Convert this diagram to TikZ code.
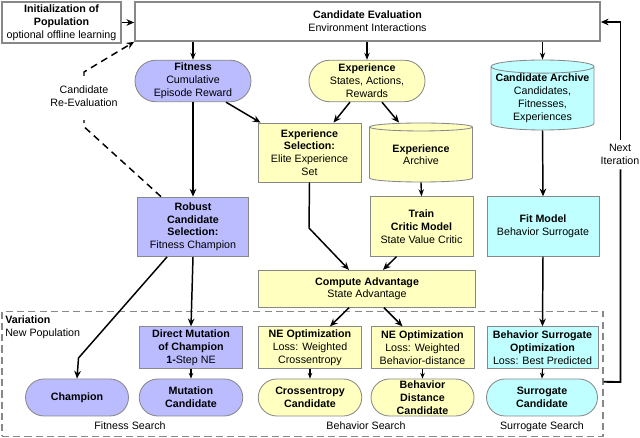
\documentclass[tikz,border=0pt]{standalone}
\usepackage{fontspec}
\setmainfont{Liberation Sans}
\usepackage{tikz}
\usetikzlibrary{arrows.meta,shapes.geometric,shapes.misc}

\definecolor{bluefill}{RGB}{187,187,255}
\definecolor{yellowfill}{RGB}{255,255,191}
\definecolor{cyanfill}{RGB}{191,255,255}
\definecolor{edgegray}{RGB}{136,136,136}

\tikzset{
    every node/.style={font=\fontsize{7.6}{9.15}\selectfont, align=center, inner sep=0pt},
    stepbox/.style 2 args={draw=edgegray, line width=0.6pt, rectangle, minimum width=#1*0.025cm, minimum height=#2*0.025cm},
    ovalbox/.style 2 args={draw=edgegray, line width=0.6pt, rounded rectangle, minimum width=#1*0.025cm, minimum height=#2*0.025cm},
    drumbox/.style 2 args={draw=edgegray, line width=0.6pt, cylinder, shape border rotate=90, aspect=0.14, anchor=shape center, minimum width=#1*0.025cm, minimum height=#2*0.025cm},
    outerbox/.style 2 args={draw=edgegray, line width=1.2pt, rectangle, minimum width=#1*0.025cm, minimum height=#2*0.025cm},
    link/.style={-{Stealth[length=5.5pt,width=4.7pt]}, line width=1.05pt},
    shortlink/.style={-{Stealth[length=5pt,width=3.8pt]}, line width=1pt},
    tinylink/.style={-{Stealth[length=4pt,width=3.2pt]}, line width=0.8pt},
    plainlink/.style={line width=1.05pt},
    longdash/.style={dash pattern=on 5pt off 3.5pt},
}

\begin{document}
\begin{tikzpicture}[x=0.025cm, y=-0.025cm]
    \useasboundingbox (0, 0) rectangle (640, 438);

    \node [outerbox={119}{41}] (init) at (61.5, 22.5) {\textbf{Initialization of}\\\textbf{Population}\\optional offline learning};
    \node [outerbox={465}{39}] (eval) at (367.5, 21.5) {\textbf{Candidate Evaluation}\\Environment Interactions};

    \node [ovalbox={116}{41.5}, fill=bluefill] (fitness) at (193, 81) {\textbf{Fitness}\\Cumulative\\Episode Reward};
    \node [ovalbox={116}{41.5}, fill=yellowfill] (experience) at (367, 81) {\textbf{Experience}\\States, Actions,\\Rewards};
    \node [drumbox={103}{70}, fill=cyanfill] (cand_arch) at (542.5, 95) {\textbf{Candidate Archive}\\Candidates,\\Fitnesses,\\Experiences};

    \node [stepbox={103}{59}, fill=yellowfill] (exp_sel) at (309.5, 152.5) {\textbf{Experience}\\\textbf{Selection:}\\Elite Experience\\Set};
    \node [drumbox={103}{59}, fill=yellowfill] (exp_arch) at (421, 152.5) {\textbf{Experience}\\Archive};

    \node [stepbox={110.5}{59.5}, fill=bluefill] (robust) at (193, 226.8) {\textbf{Robust}\\\textbf{Candidate}\\\textbf{Selection:}\\Fitness Champion};
    \node [stepbox={103}{59.5}, fill=yellowfill] (critic) at (421.5, 226.5) {\textbf{Train}\\\textbf{Critic Model}\\State Value Critic};
    \node [stepbox={112}{59.5}, fill=cyanfill] (fit_model) at (543, 226.5) {\textbf{Fit Model}\\Behavior Surrogate};
    \node [stepbox={217.5}{37}, fill=yellowfill] (advantage) at (367, 288.8) {\textbf{Compute Advantage}\\State Advantage};

    % variation frame
    \node [rectangle, draw=edgegray, dash pattern=on 5pt off 3pt, line width=0.9pt, minimum width=601*0.025cm, minimum height=125*0.025cm] (variation) at (302.5, 373.8) {};
    \node [anchor=north west, align=left] (variation_lbl) at (5, 315.5) {\textbf{Variation}\\New Population};

    \node [stepbox={103.5}{41.5}, fill=bluefill] (direct) at (191, 347.5) {\textbf{Direct Mutation}\\\textbf{of Champion}\\\textbf{1-}Step NE};
    \node [stepbox={103}{41.5}, fill=yellowfill] (ne_cross) at (310, 347.5) {\textbf{NE Optimization}\\Loss: Weighted\\Crossentropy};
    \node [stepbox={103}{41.5}, fill=yellowfill] (ne_behav) at (422.5, 347.5) {\textbf{NE Optimization}\\Loss: Weighted\\Behavior-distance};
    \node [stepbox={111}{41.5}, fill=cyanfill] (surr_opt) at (542.5, 347.5) {\textbf{Behavior Surrogate}\\\textbf{Optimization}\\Loss: Best Predicted};

    \node [ovalbox={103}{37}, fill=bluefill] (champion) at (77, 397.5) {\textbf{Champion}};
    \node [ovalbox={103.5}{37}, fill=bluefill] (mutation) at (191, 397.5) {\textbf{Mutation}\\\textbf{Candidate}};
    \node [ovalbox={103.5}{37}, fill=yellowfill] (crossent) at (310, 397.5) {\textbf{Crossentropy}\\\textbf{Candidate}};
    \node [ovalbox={103}{37}, fill=yellowfill] (behav_dist) at (422.5, 397.5) {\textbf{Behavior}\\\textbf{Distance}\\\textbf{Candidate}};
    \node [ovalbox={111}{37}, fill=cyanfill] (surrogate) at (542, 397.5) {\textbf{Surrogate}\\\textbf{Candidate}};

    \node (fit_search) at (130, 426) {Fitness Search};
    \node (beh_search) at (366, 426) {Behavior Search};
    \node (sur_search) at (542, 426.5) {Surrogate Search};

    \node (reeval) at (84, 96.5) {Candidate\\Re-Evaluation};
    \node (next_iter) at (620, 154) {Next\\Iteration};

    \coordinate (reeval_low) at (84, 126.7);
    \coordinate (reeval_up) at (84, 72);
    \coordinate (champ_bend) at (78.5, 358);
    \coordinate (sel_bend) at (309, 228);
    \coordinate (iter_low) at (620.5, 382);
    \coordinate (iter_up) at (620.5, 22);

    \draw [link] (init.east) -- (eval.west |- init.east);
    \draw [shortlink] (fitness.north |- eval.south) -- (fitness.north);
    \draw [shortlink] (experience.north |- eval.south) -- (experience.north);
    \draw [shortlink] (cand_arch.top |- eval.south) -- ([shift={(0, 0)}]cand_arch.top);

    \draw [link] (fitness.south) -- (robust.north);
    \draw [link] ([shift={(33, 0)}]fitness.south) -- ([shift={(-49, 0)}]exp_sel.north);
    \draw [link] ([shift={(-17, 0)}]experience.south) -- ([shift={(24, 0)}]exp_sel.north);
    \draw [link] ([shift={(15, 0)}]experience.south) -- ([shift={(-22, 0)}]exp_arch.top);
    \draw [shortlink] (exp_arch.bottom) -- (critic.north);
    \draw [link] (cand_arch.bottom) -- (fit_model.north);

    \draw [plainlink] (exp_sel.south) -- (sel_bend);
    \draw [link] (sel_bend) -- ([shift={(-18, 0)}]advantage.north);
    \draw [link] ([shift={(-25, 0)}]critic.south) -- ([shift={(16, 0)}]advantage.north);
    \draw [link] ([shift={(-18, 0)}]advantage.south) -- ([shift={(20, 0)}]ne_cross.north);
    \draw [link] ([shift={(17, 0)}]advantage.south) -- ([shift={(-20, 0)}]ne_behav.north);
    \draw [link] (fit_model.south) -- (surr_opt.north);

    \draw [link] (robust.south) -- (direct.north);
    \draw [link] ([shift={(-26, 0)}]robust.south) -- (champ_bend) -- (champion.north);
    \draw [tinylink] (direct.south) -- (mutation.north);
    \draw [tinylink] (ne_cross.south) -- (crossent.north);
    \draw [tinylink] (ne_behav.south) -- (behav_dist.north);
    \draw [tinylink] (surr_opt.south) -- (surrogate.north);

    \draw [plainlink, longdash] ([shift={(-32, 0)}]robust.north) -- (reeval_low) -- ([shift={(0, 13)}]reeval.south);
    \draw [link, longdash] ([shift={(0, -10)}]reeval.north) -- (reeval_up) -- (eval.south west);

    \draw [plainlink, line width=1.3pt] ([shift={(0, 8)}]variation.east) -- (iter_low) -- ([shift={(0, 5)}]next_iter.south -| iter_low);
    \draw [link, line width=1.3pt] ([shift={(0, -4)}]next_iter.north -| iter_up) -- (iter_up) -- (eval.east |- iter_up);
\end{tikzpicture}
\end{document}
